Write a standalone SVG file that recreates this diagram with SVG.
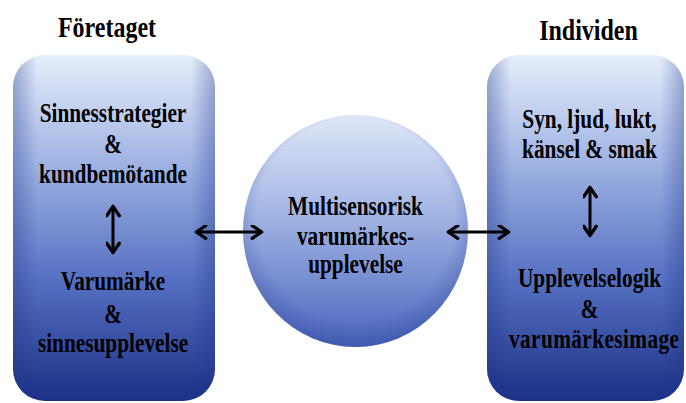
<svg xmlns="http://www.w3.org/2000/svg" width="686" height="403" viewBox="0 0 686 403">
<defs>
<linearGradient id="boxg" x1="0" y1="0" x2="0" y2="1">
<stop offset="0" stop-color="#e6eefb"/>
<stop offset="0.3" stop-color="#a2b5e4"/>
<stop offset="0.65" stop-color="#5570c2"/>
<stop offset="1" stop-color="#1b3087"/>
</linearGradient>
<linearGradient id="edge" x1="0" y1="0" x2="1" y2="0">
<stop offset="0" stop-color="#1d3488" stop-opacity="0.35"/>
<stop offset="0.12" stop-color="#1d3488" stop-opacity="0"/>
<stop offset="0.88" stop-color="#1d3488" stop-opacity="0"/>
<stop offset="1" stop-color="#1d3488" stop-opacity="0.35"/>
</linearGradient>
<linearGradient id="circg" x1="0" y1="0" x2="0" y2="1">
<stop offset="0" stop-color="#dfe7f8"/>
<stop offset="0.4" stop-color="#a6b8e5"/>
<stop offset="1" stop-color="#4a65bd"/>
</linearGradient>
<radialGradient id="circedge" cx="0.5" cy="0.45" r="0.55">
<stop offset="0.8" stop-color="#2a4499" stop-opacity="0"/>
<stop offset="1" stop-color="#2a4499" stop-opacity="0.35"/>
</radialGradient>
<marker id="ah" viewBox="0 0 10 10" refX="8" refY="5" markerWidth="5" markerHeight="5" orient="auto-start-reverse">
<path d="M1.5,0.8 L7.8,5 L1.5,9.2" fill="none" stroke="#000" stroke-width="2.2" stroke-linecap="round" stroke-linejoin="round"/>
</marker>
</defs>
<style>
.t{font-size:24px}
.b{font-size:21.3px}
.arr{stroke:#000;stroke-width:3;fill:none;marker-start:url(#ah);marker-end:url(#ah)}
</style>
<rect width="686" height="403" fill="#fff"/>
<g font-family="Liberation Serif, Times New Roman, serif" font-weight="bold" text-anchor="middle" fill="#000">
<g id="left">
<text class="t" transform="translate(107,37) scale(1,1.25)">Företaget</text>
<rect x="13" y="55" width="202" height="346" rx="32" fill="url(#boxg)"/>
<rect x="13" y="55" width="202" height="346" rx="32" fill="url(#edge)"/>
<text class="b" transform="translate(113,122) scale(1,1.28)">Sinnesstrategier</text>
<text class="b" transform="translate(113,153) scale(1,1.28)">&amp;</text>
<text class="b" transform="translate(113,183) scale(1,1.28)">kundbemötande</text>
<text class="b" transform="translate(113,290) scale(1,1.28)">Varumärke</text>
<text class="b" transform="translate(113,323) scale(1,1.28)">&amp;</text>
<text class="b" transform="translate(113,352) scale(1,1.28)">sinnesupplevelse</text>
</g>
<g id="center">
<ellipse cx="355.5" cy="231" rx="112.5" ry="116" fill="url(#circg)"/>
<ellipse cx="355.5" cy="231" rx="112.5" ry="116" fill="url(#circedge)"/>
<text class="b" transform="translate(355.5,215) scale(1,1.28)">Multisensorisk</text>
<text class="b" transform="translate(355.5,245) scale(1,1.28)">varumärkes-</text>
<text class="b" transform="translate(355.5,273) scale(1,1.28)">upplevelse</text>
</g>
<g id="right">
<text class="t" transform="translate(588.5,40) scale(1,1.25)">Individen</text>
<rect x="487" y="55" width="197" height="346" rx="32" fill="url(#boxg)"/>
<rect x="487" y="55" width="197" height="346" rx="32" fill="url(#edge)"/>
<text class="b" transform="translate(589.5,128) scale(1,1.28)">Syn, ljud, lukt,</text>
<text class="b" transform="translate(589.5,158) scale(1,1.28)">känsel &amp; smak</text>
<text class="b" transform="translate(589.5,287) scale(1,1.28)">Upplevelselogik</text>
<text class="b" transform="translate(589.5,318) scale(1,1.28)">&amp;</text>
<text class="b" transform="translate(594,348) scale(1,1.28)" textLength="170" lengthAdjust="spacing">varumärkesimage</text>
</g>
</g>
<g id="connectors">
<line class="arr" x1="113" y1="206" x2="113" y2="253"/>
<line class="arr" x1="196" y1="232" x2="262" y2="232"/>
<line class="arr" x1="448" y1="232" x2="509" y2="232"/>
<line class="arr" x1="590" y1="187" x2="590" y2="236"/>
</g>
</svg>
